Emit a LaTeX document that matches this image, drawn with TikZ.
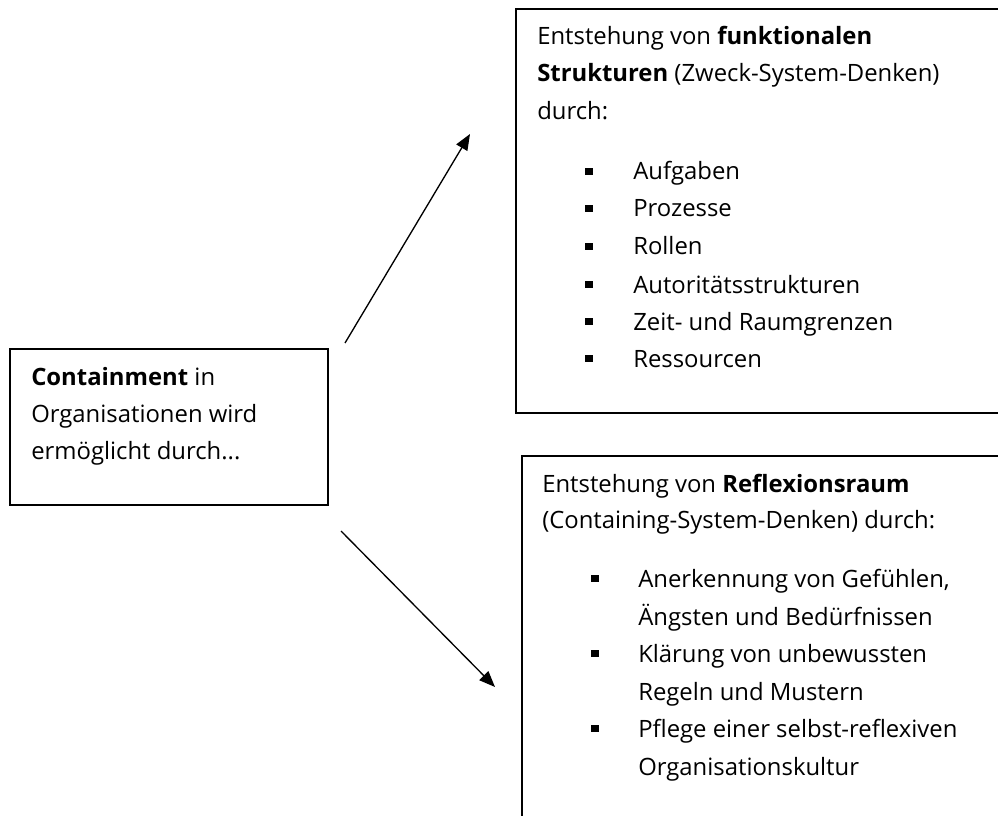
\documentclass[tikz,border=0pt]{standalone}
\usepackage{fontspec}
\setmainfont{Open Sans}
\usetikzlibrary{arrows.meta}
\tikzset{
  box/.style={draw=black, line width=1.3pt, rectangle, inner sep=0pt},
  txt/.style={anchor=base west, inner sep=0pt, font=\fontsize{17.9pt}{21pt}\selectfont},
  bul/.style={fill=black, rectangle, inner sep=0pt, minimum size=5.4pt},
  conn/.style={line width=1pt, -{Triangle[length=12pt, width=9.5pt]}}
}
\begin{document}
\begin{tikzpicture}[x=0.75pt, y=-0.75pt]
\useasboundingbox (0,0) rectangle (998,816);
\clip (0,0) rectangle (998,816);
\fill[white] (0,0) rectangle (998,816);
% boxes
\node[box, minimum width=318*0.75pt, minimum height=156*0.75pt, anchor=north west] (src) at (9,348) {};
\node[box, minimum width=500*0.75pt, minimum height=404*0.75pt, anchor=north west] (fbox) at (515,8) {};
\node[box, minimum width=500*0.75pt, minimum height=380*0.75pt, anchor=north west] (rbox) at (521,455) {};
% left box text
\node[txt] (s1) at (31,385) {\textbf{Containment} in};
\node[txt] (s2) at (31,422) {Organisationen wird};
\node[txt] (s3) at (31,459) {ermöglicht durch...};
% top box text
\node[txt] (f1) at (537,45) {Entstehung von \textbf{funktionalen}};
\node[txt] (f2) at (537,82) {\textbf{Strukturen} (Zweck-System-Denken)};
\node[txt] (f3) at (537,120) {durch:};
\foreach \y/\t [count=\i] in {180/Aufgaben, 217/Prozesse, 255/Rollen, 293/Autoritätsstrukturen, 330/Zeit- und Raumgrenzen, 367/Ressourcen}{
  \node[bul] (fb\i) at (589,\y-8.5) {};
  \node[txt] (fi\i) at (633,\y) {\t};
}
% bottom box text
\node[txt] (r1) at (542,492) {Entstehung von \textbf{Reflexionsraum}};
\node[txt] (r2) at (542,528) {(Containing-System-Denken) durch:};
\node[bul] (rb1) at (595,587-8.5) {};
\node[bul] (rb2) at (595,662-8.5) {};
\node[bul] (rb3) at (595,737-8.5) {};
\node[txt] (ri1) at (638,587) {Anerkennung von Gefühlen,};
\node[txt] (ri2) at (638,625) {Ängsten und Bedürfnissen};
\node[txt] (ri3) at (638,662) {Klärung von unbewussten};
\node[txt] (ri4) at (638,700) {Regeln und Mustern};
\node[txt] (ri5) at (638,737) {Pflege einer selbst-reflexiven};
\node[txt] (ri6) at (638,775) {Organisationskultur};
% connectors
\coordinate (a1s) at (345,343);
\coordinate (a1e) at (470,134);
\coordinate (a2s) at (341,531);
\coordinate (a2e) at (495,687);
\draw[conn] (a1s) -- (a1e);
\draw[conn] (a2s) -- (a2e);
\end{tikzpicture}
\end{document}
